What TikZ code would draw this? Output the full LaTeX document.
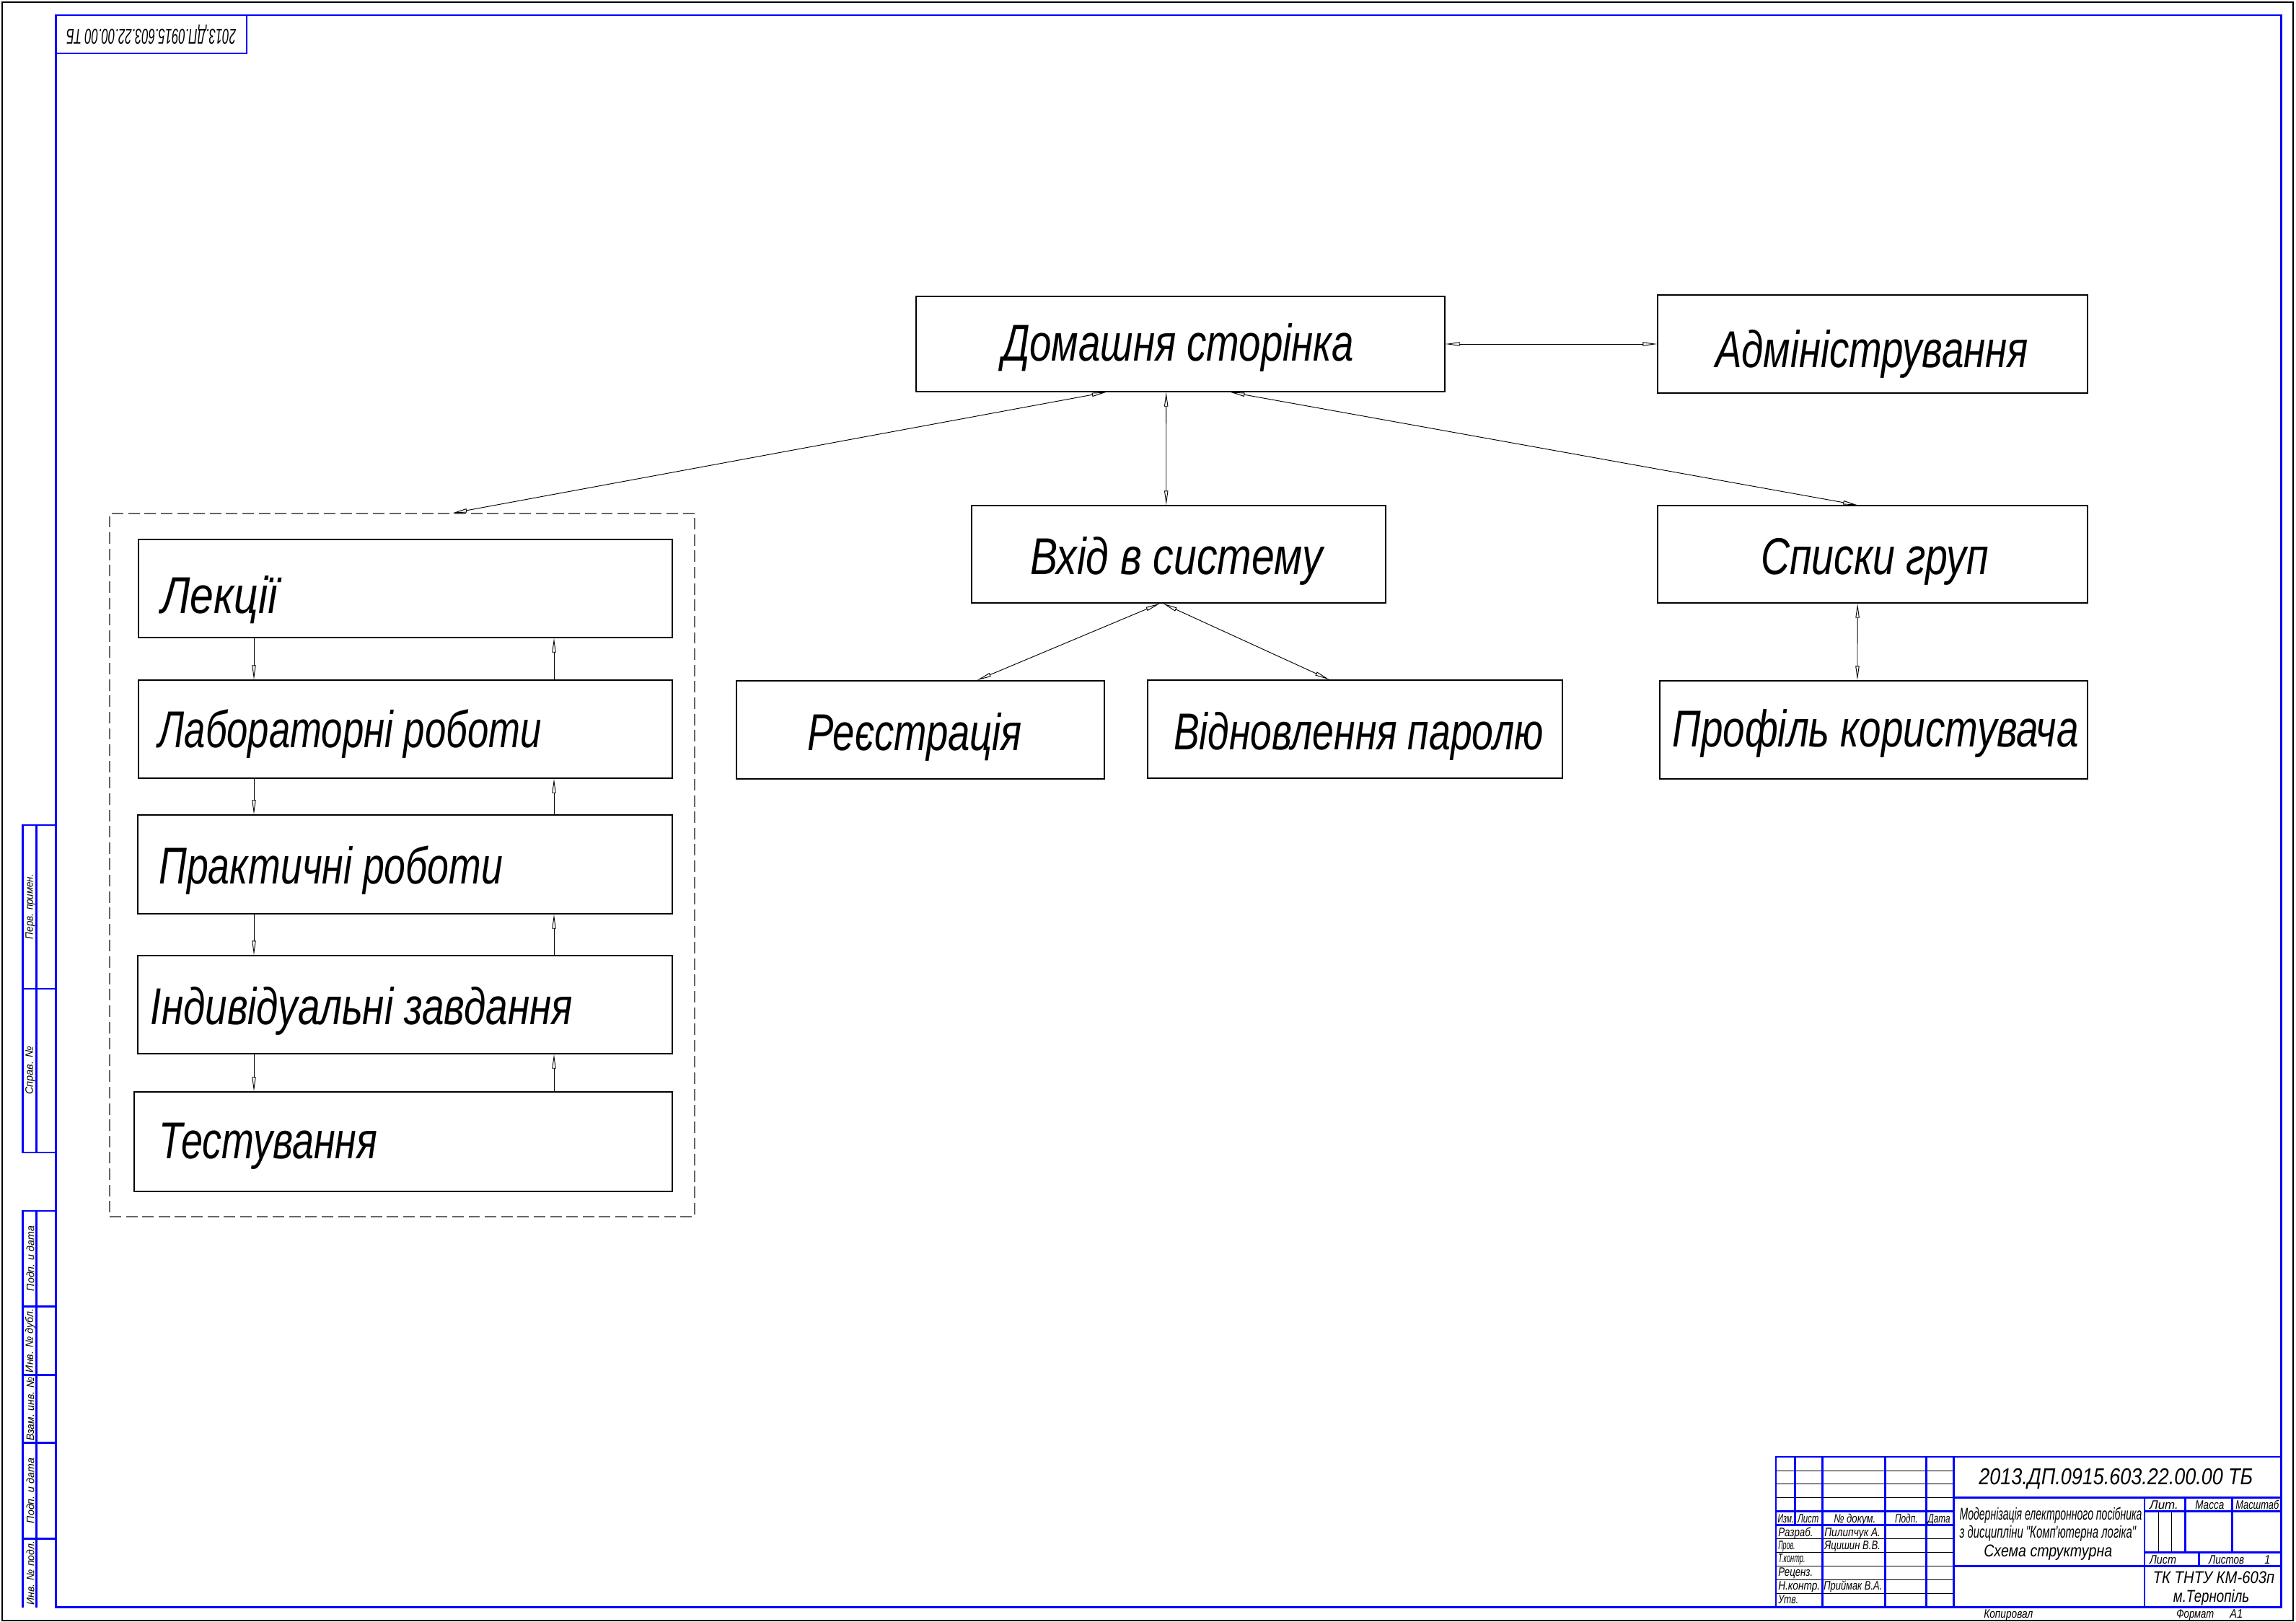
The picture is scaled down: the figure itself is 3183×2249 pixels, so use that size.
\documentclass[tikz,border=0pt]{standalone}
\usepackage{fontspec}
\usepackage{graphicx}
\usetikzlibrary{arrows.meta,calc,fit}
\newfontfamily\gost{Liberation Sans}
\newlength\pxu \setlength\pxu{0.26422mm}
\newcommand\fitw[2]{\resizebox{#1\pxu}{\height}{#2}}
\tikzset{
 frameblue/.style={draw=blue, line width=2.2pt},
 thinblk/.style={draw=black, line width=0.6pt},
 boxn/.style={draw=black, line width=1.1pt, inner sep=0pt},
 grp/.style={draw=black!60, line width=0.9pt, dash pattern=on 12pt off 5pt, inner sep=0pt},
 lbl/.style={inner sep=0pt, font=\gost\itshape\fontsize{54}{60}\selectfont},
 small/.style={inner sep=0pt, font=\gost\itshape\fontsize{12.8}{14}\selectfont},
 mid/.style={inner sep=0pt, font=\gost\itshape\fontsize{17.8}{20}\selectfont},
 strip/.style={inner sep=0pt, rotate=90, font=\gost\itshape\fontsize{11.2}{13}\selectfont},
 dbl/.style={line width=0.7pt, {Triangle[open,length=15pt,width=4pt]}-{Triangle[open,length=15pt,width=4pt]}},
 sgl/.style={line width=0.7pt, -{Triangle[open,length=15pt,width=4pt]}},
}
\begin{document}
\begin{tikzpicture}[x=0.26422mm, y=-0.26422mm]
\fill[white] (0,0) rectangle (3183,2249);
\useasboundingbox (0,0) rectangle (3183,2249);
% outer sheet frame
\draw[black, line width=1.5pt] (3,3) rectangle (3179,2247);
% blue frame
\draw[frameblue] (77.5,21) rectangle (3162,2228.5);
% top-left stamp
\draw[frameblue] (77.5,74) -- (342,74) -- (342,21);
\node[inner sep=0pt, rotate=180, font=\gost\itshape\fontsize{22.5}{25}\selectfont] (stamp) at (209.5,47.5) {\fitw{235}{2013.ДП.0915.603.22.00.00 ТБ}};

% left strip
\draw[frameblue] (77.5,1144) -- (31.6,1144) -- (31.6,1598) -- (77.5,1598);
\draw[frameblue] (31.6,1371) -- (77.5,1371);
\draw[frameblue] (50.5,1144) -- (50.5,1598);
\draw[frameblue] (77.5,1679) -- (31.6,1679) -- (31.6,2228.5);
\foreach \yy in {1811.7,1906.3,2000.9,2133.4} \draw[frameblue] (31.6,\yy) -- (77.5,\yy);
\draw[frameblue] (50.5,1679) -- (50.5,2228.5);
\node[strip] (s1) at (42,1257) {\fitw{90}{Перв. примен.}};
\node[strip] (s2) at (42,1484) {\fitw{67}{Справ. №}};
\node[strip] (s3) at (42,1745) {\fitw{90}{Подп. и дата}};
\node[strip] (s4) at (42,1859) {\fitw{88}{Инв. № дубл.}};
\node[strip] (s5) at (42,1953.6) {\fitw{88}{Взам. инв. №}};
\node[strip] (s6) at (42,2067) {\fitw{90}{Подп. и дата}};
\node[strip] (s7) at (42,2181) {\fitw{88}{Инв. № подл.}};

% title block (mm units)
\begin{scope}[shift={(2462,2020)}, scale=3.7848]
 \foreach \yy in {5,10,15,30,35,40,45,50} \draw[thinblk] (0,\yy) -- (65,\yy);
 \draw[thinblk] (140,20) -- (140,35) (145,20) -- (145,35);
 \draw[frameblue] (0,55) -- (0,0) -- (185,0);
 \draw[frameblue] (7,0) -- (7,25);
 \foreach \xx in {17,40,55,65} \draw[frameblue] (\xx,0) -- (\xx,55);
 \draw[frameblue] (0,20) -- (65,20) (0,25) -- (65,25);
 \draw[frameblue] (65,15) -- (185,15) (65,40) -- (185,40);
 \draw[frameblue] (135,20) -- (185,20) (135,35) -- (185,35);
 \draw[frameblue] (135,15) -- (135,55);
 \draw[frameblue] (150,15) -- (150,35) (167,15) -- (167,35);
 \draw[frameblue] (155,35) -- (155,40);
\end{scope}
% title block texts
\node[small, anchor=base west] (h1) at (2464.3,2111.7) {\fitw{22.4}{Изм.}};
\node[small, anchor=base west] (h2) at (2491.7,2111.7) {\fitw{29.3}{Лист}};
\node[small, anchor=base west] (h3) at (2542,2111.7) {\fitw{58}{№ докум.}};
\node[small, anchor=base west] (h4) at (2626.7,2111.7) {\fitw{31.6}{Подп.}};
\node[small, anchor=base west] (h5) at (2672.3,2111.7) {\fitw{31}{Дата}};
\node[small, anchor=base west] (r1) at (2465,2130) {\fitw{48.3}{Разраб.}};
\node[small, anchor=base west] (n1) at (2529,2130) {\fitw{77.7}{Пилипчук А.}};
\node[small, anchor=base west] (r2) at (2465,2148.3) {\fitw{23.3}{Пров.}};
\node[small, anchor=base west] (n2) at (2529,2148.3) {\fitw{77.7}{Яцишин В.В.}};
\node[small, anchor=base west] (r3) at (2465,2166.7) {\fitw{37.3}{Т.контр.}};
\node[small, anchor=base west] (r4) at (2465,2185.7) {\fitw{48}{Реценз.}};
\node[small, anchor=base west] (r5) at (2465,2204.3) {\fitw{58}{Н.контр.}};
\node[small, anchor=base west] (n5) at (2528,2204.3) {\fitw{81}{Приймак В.А.}};
\node[small, anchor=base west] (r6) at (2465,2223) {\fitw{28}{Утв.}};
\node[small, anchor=base west] (lit) at (2979.8,2092.7) {\fitw{39.8}{Лит.}};
\node[small, anchor=base west] (mas) at (3043,2092.7) {\fitw{40}{Масса}};
\node[small, anchor=base west] (msh) at (3099,2092.7) {\fitw{60}{Масштаб}};
\node[small, anchor=base west] (lst) at (2979.8,2168.3) {\fitw{37}{Лист}};
\node[small, anchor=base west] (lsv) at (3061.8,2168.3) {\fitw{49}{Листов}};
\node[small, anchor=base west] (one) at (3139,2168.3) {\fitw{8}{1}};
\node[mid, anchor=base west] (org1) at (2984.5,2195) {\fitw{168.5}{ТК ТНТУ КМ-603п}};
\node[mid, anchor=base west] (org2) at (3012.6,2221) {\fitw{105.4}{м.Тернопіль}};
\node[inner sep=0pt, anchor=base west, font=\gost\itshape\fontsize{24}{27}\selectfont] (desig) at (2743,2058) {\fitw{380}{2013.ДП.0915.603.22.00.00 ТБ}};
\node[mid, anchor=base west] (nm1) at (2716.3,2107.3) {\fitw{253}{Модернізація електронного посібника}};
\node[mid, anchor=base west] (nm2) at (2716.3,2132.7) {\fitw{244.7}{з дисципліни "Комп'ютерна логіка"}};
\node[mid, anchor=base west] (nm3) at (2750,2158.3) {\fitw{178}{Схема структурна}};
\node[small, anchor=base west] (kop) at (2750,2243) {\fitw{68}{Копировал}};
\node[small, anchor=base west] (fmt) at (3017,2243) {\fitw{52}{Формат}};
\node[small, anchor=base west] (a1) at (3091,2243) {\fitw{18}{А1}};

% diagram boxes
\node[boxn, fit={(1270,411)(2003,543)}] (dom) {};
\node[boxn, fit={(2298,409)(2894,545)}] (adm) {};
\node[boxn, fit={(1347,701)(1921,836)}] (vhid) {};
\node[boxn, fit={(2298,701)(2894,836)}] (spys) {};
\node[boxn, fit={(1021,944)(1531,1080)}] (reg) {};
\node[boxn, fit={(1591,943)(2166,1079)}] (vidn) {};
\node[boxn, fit={(2301,944)(2894,1080)}] (prof) {};
\node[grp, fit={(152,712)(963,1687)}] (grp) {};
\node[boxn, fit={(192,748)(932,884)}] (lek) {};
\node[boxn, fit={(192,943)(932,1079)}] (lab) {};
\node[boxn, fit={(191,1130)(932,1267)}] (prak) {};
\node[boxn, fit={(191,1325)(932,1461)}] (ind) {};
\node[boxn, fit={(186,1514)(932,1652)}] (test) {};

% box texts
\node[lbl, anchor=base] (tdom) at (1633,500) {\fitw{488}{Домашня сторінка}};
\node[lbl, anchor=base] (tadm) at (2595,509) {\fitw{434}{Адміністрування}};
\node[lbl, anchor=base] (tvhid) at (1631,796.7) {\fitw{405}{Вхід в систему}};
\node[lbl, anchor=base] (tspys) at (2599,796.7) {\fitw{316}{Списки груп}};
\node[lbl, anchor=base] (treg) at (1268,1040) {\fitw{298}{Реєстрація}};
\node[lbl, anchor=base] (tvidn) at (1883.6,1039) {\fitw{513}{Відновлення паролю}};
\node[lbl, anchor=base] (tprof) at (2600,1035) {\fitw{563}{Профіль користувача}};
\node[lbl, anchor=base west] (tlek) at (223,850.3) {\fitw{161}{Лекції}};
\node[lbl, anchor=base west] (tlab) at (219.3,1036) {\fitw{531}{Лабораторні роботи}};
\node[lbl, anchor=base west] (tprak) at (220,1225) {\fitw{477}{Практичні роботи}};
\node[lbl, anchor=base west] (tind) at (208.6,1420.8) {\fitw{585}{Індивідуальні завдання}};
\node[lbl, anchor=base west] (ttest) at (220,1606.7) {\fitw{303}{Тестування}};

% connectors
\draw[dbl] (dom.east) -- (adm.west);
\draw[dbl] ($(dom.south west)!0.473!(dom.south east)$) -- ($(vhid.north west)!0.47!(vhid.north east)$);
\draw[dbl] ($(dom.south west)!0.36!(dom.south east)$) -- ($(grp.north west)!0.586!(grp.north east)$);
\draw[dbl] ($(dom.south west)!0.594!(dom.south east)$) -- ($(spys.north west)!0.465!(spys.north east)$);
\draw[dbl] ($(vhid.south west)!0.455!(vhid.south east)$) -- ($(reg.north west)!0.653!(reg.north east)$);
\draw[dbl] ($(vhid.south west)!0.462!(vhid.south east)$) -- ($(vidn.north west)!0.438!(vidn.north east)$);
\draw[dbl] ($(spys.south west)!0.465!(spys.south east)$) -- ($(prof.north west)!0.462!(prof.north east)$);

\coordinate (xd) at (352,0);
\coordinate (xu) at (768,0);
\draw[sgl] (lek.south -| xd) -- (lab.north -| xd);
\draw[sgl] (lab.south -| xd) -- (prak.north -| xd);
\draw[sgl] (prak.south -| xd) -- (ind.north -| xd);
\draw[sgl] (ind.south -| xd) -- (test.north -| xd);
\draw[sgl] (lab.north -| xu) -- (lek.south -| xu);
\draw[sgl] (prak.north -| xu) -- (lab.south -| xu);
\draw[sgl] (ind.north -| xu) -- (prak.south -| xu);
\draw[sgl] (test.north -| xu) -- (ind.south -| xu);
\end{tikzpicture}
\end{document}
